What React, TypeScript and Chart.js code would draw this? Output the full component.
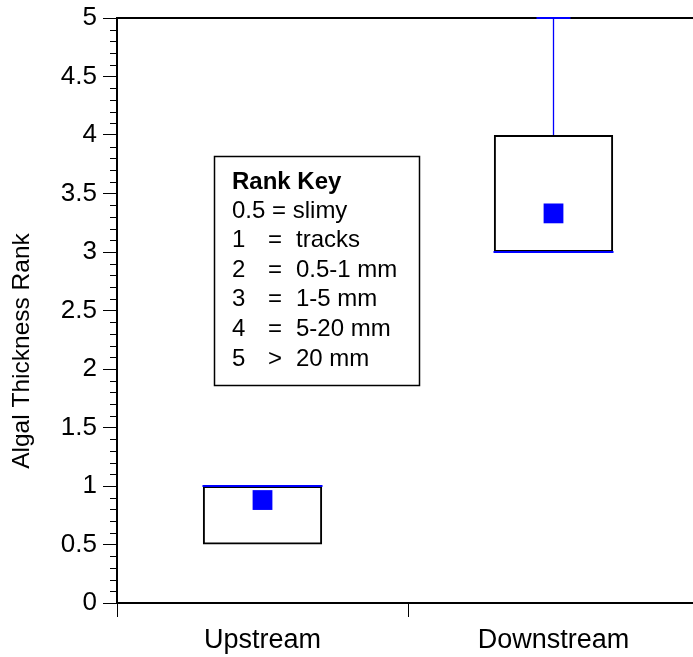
import React, { useEffect, useRef } from 'react';
import { Chart, registerables } from 'chart.js';

Chart.register(...registerables);

// ---- data ----
const categories = ['Upstream', 'Downstream'];
const q1 = [0.5, 3];
const q3 = [1, 4];
const medians = [1, 3];
const means = [0.88, 3.33];
const mins = [0.5, 3];
const maxs = [1, 5];

const yMin = 0;
const yMax = 5;
const yMajorStep = 0.5;
const yMinorStep = 0.1;

const yAxisTitle = 'Algal Thickness Rank';
const keyTitle = 'Rank Key';
const keyFirstLine = '0.5 = slimy';
const keyRanks = ['1', '2', '3', '4', '5'];
const keySigns = ['=', '=', '=', '=', '>'];
const keyMeanings = ['tracks', '0.5-1 mm', '1-5 mm', '5-20 mm', '20 mm'];

const BLUE = 'rgb(0,0,255)';
const FONT = "'Liberation Sans', Arial, Helvetica, sans-serif";

const framePlugin = {
  id: 'frame',
  beforeDatasetsDraw(chart: any) {
    const { ctx, chartArea: a, scales } = chart;
    const y = scales.y;
    ctx.save();
    // top and right frame lines
    ctx.strokeStyle = '#000';
    ctx.lineWidth = 2;
    ctx.beginPath();
    ctx.moveTo(a.left - 1, a.top);
    ctx.lineTo(a.right, a.top);
    ctx.lineTo(a.right, a.bottom);
    ctx.stroke();
    // minor ticks on y axis
    ctx.lineWidth = 1;
    ctx.beginPath();
    const n = Math.round((yMax - yMin) / yMinorStep);
    const perMajor = Math.round(yMajorStep / yMinorStep);
    for (let i = 0; i <= n; i++) {
      if (i % perMajor === 0) continue;
      const py = Math.round(y.getPixelForValue(yMin + i * yMinorStep)) + 0.5;
      ctx.moveTo(a.left - 7, py);
      ctx.lineTo(a.left, py);
    }
    ctx.stroke();
    ctx.restore();
  },
  afterDraw(chart: any) {
    const { ctx } = chart;
    ctx.save();
    // Rank key box
    ctx.strokeStyle = '#000';
    ctx.lineWidth = 1.5;
    ctx.strokeRect(214.5, 156.5, 205, 229);
    ctx.fillStyle = '#000';
    ctx.textBaseline = 'middle';
    ctx.textAlign = 'left';
    ctx.font = `bold 24px ${FONT}`;
    ctx.fillText(keyTitle, 232, 182.5);
    ctx.font = `24px ${FONT}`;
    ctx.fillText(keyFirstLine, 232, 211);
    keyRanks.forEach((r, i) => {
      const ly = 240.5 + i * 29.6;
      ctx.fillText(r, 232, ly);
      ctx.fillText(keySigns[i], 268, ly);
      ctx.fillText(keyMeanings[i], 296, ly);
    });
    // y-axis title
    ctx.translate(29, 351);
    ctx.rotate(-Math.PI / 2);
    ctx.textAlign = 'center';
    ctx.textBaseline = 'alphabetic';
    ctx.font = `24.5px ${FONT}`;
    ctx.fillText(yAxisTitle, 0, 0);
    ctx.restore();
  },
};

export default function App() {
  const ref = useRef<HTMLCanvasElement>(null);

  useEffect(() => {
    const canvas = ref.current;
    if (!canvas) return;

    const whiskerStyle = {
      type: 'line',
      borderColor: BLUE,
      backgroundColor: BLUE,
      borderWidth: 1.3,
      pointStyle: 'line',
      pointRadius: [0, 17],
      pointBorderWidth: 2,
      pointBorderColor: BLUE,
      pointBackgroundColor: BLUE,
      clip: false,
      order: 2,
    };
    const whiskers: any[] = [];
    categories.forEach((c, i) => {
      if (maxs[i] > q3[i]) {
        whiskers.push({
          ...whiskerStyle,
          data: [
            { x: c, y: q3[i] },
            { x: c, y: maxs[i] },
          ],
        });
      }
      if (mins[i] < q1[i]) {
        whiskers.push({
          ...whiskerStyle,
          data: [
            { x: c, y: q1[i] },
            { x: c, y: mins[i] },
          ],
        });
      }
    });

    const chart = new Chart(canvas, {
      type: 'bar',
      data: {
        labels: categories,
        datasets: [
          {
            type: 'bar',
            data: categories.map((_, i) => [q1[i], q3[i]]) as any,
            backgroundColor: 'rgba(0,0,0,0)',
            borderColor: '#000',
            borderWidth: 2,
            borderSkipped: false,
            barPercentage: 0.41,
            categoryPercentage: 1,
            order: 3,
          },
          ...whiskers,
          {
            type: 'line',
            data: medians,
            showLine: false,
            pointStyle: 'line',
            pointRadius: 60,
            pointBorderWidth: 2,
            pointBorderColor: BLUE,
            borderColor: BLUE,
            clip: false,
            order: 1,
          },
          {
            type: 'line',
            data: means,
            showLine: false,
            pointStyle: 'rect',
            pointRadius: 14,
            pointBackgroundColor: BLUE,
            pointBorderWidth: 0,
            borderColor: BLUE,
            clip: false,
            order: 0,
          },
        ] as any,
      },
      options: {
        responsive: false,
        maintainAspectRatio: false,
        animation: false,
        events: [],
        layout: { autoPadding: false, padding: { top: 18, right: 21, left: 0, bottom: 0 } },
        plugins: {
          legend: { display: false },
          tooltip: { enabled: false },
        },
        scales: {
          x: {
            type: 'category',
            offset: true,
            grid: {
              offset: true,
              drawOnChartArea: false,
              drawTicks: true,
              tickLength: 14,
              color: '#000',
              lineWidth: 1,
            },
            border: { display: true, color: '#000', width: 2 },
            ticks: {
              color: '#000',
              font: { size: 27, family: FONT },
              padding: 7,
              maxRotation: 0,
              autoSkip: false,
            },
            afterFit: (s: any) => {
              s.height = 54;
              s.paddingLeft = 0;
              s.paddingRight = 0;
            },
          },
          y: {
            type: 'linear',
            min: yMin,
            max: yMax,
            grid: {
              drawOnChartArea: false,
              drawTicks: true,
              tickLength: 14,
              color: '#000',
              lineWidth: 1,
            },
            border: { display: true, color: '#000', width: 2 },
            ticks: {
              stepSize: yMajorStep,
              color: '#000',
              font: { size: 26, family: FONT },
              padding: 6,
              callback: (v: any) => String(v),
            },
            afterFit: (s: any) => {
              s.width = 117;
              s.paddingTop = 0;
              s.paddingBottom = 0;
            },
          },
        },
      } as any,
      plugins: [framePlugin],
    });

    return () => chart.destroy();
  }, []);

  return (
    <div
      style={{
        position: 'fixed',
        left: 0,
        top: 0,
        width: 693,
        height: 657,
        overflow: 'hidden',
        background: '#fff',
      }}
    >
      <canvas ref={ref} width={720} height={657} style={{ width: 720, height: 657, display: 'block' }} />
    </div>
  );
}
